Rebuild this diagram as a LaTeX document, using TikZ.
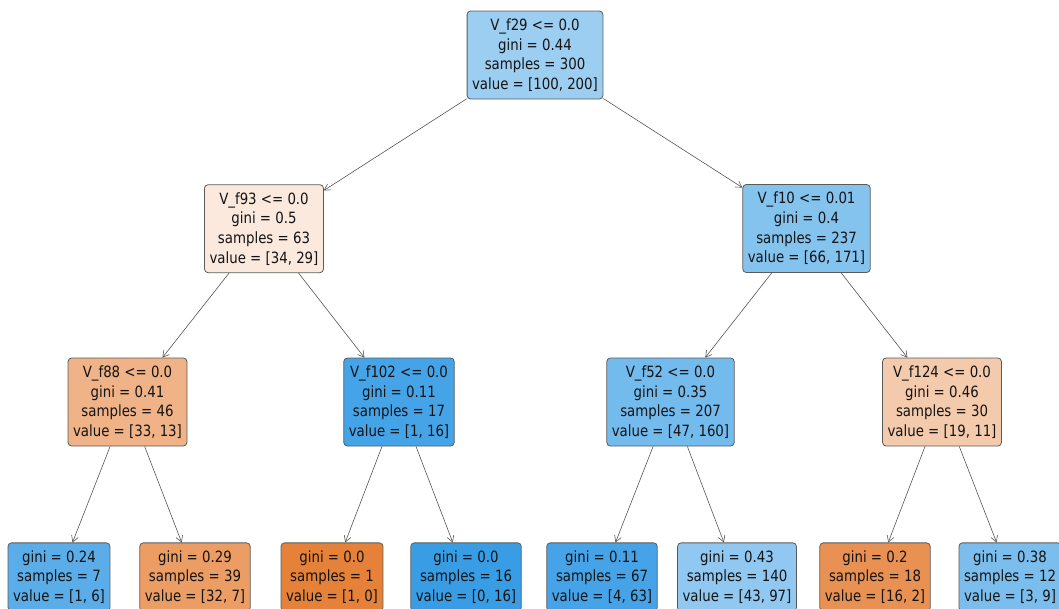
\documentclass[tikz,border=0pt]{standalone}
\usepackage{fontspec}
\setmainfont{DejaVu Sans}[FakeStretch=0.86]
\usetikzlibrary{arrows.meta}

% class colours of the tree, blended by purity
\definecolor{rootc}{RGB}{156,206,242}
\definecolor{fninetythree}{RGB}{251,233,221}
\definecolor{ften}{RGB}{133,195,239}
\definecolor{feightyeight}{RGB}{239,179,135}
\definecolor{fonehundredtwo}{RGB}{69,163,231}
\definecolor{ffiftytwo}{RGB}{115,186,237}
\definecolor{fonetwentyfour}{RGB}{244,202,172}
\definecolor{leafa}{RGB}{90,173,233}
\definecolor{leafb}{RGB}{235,157,100}
\definecolor{leafc}{RGB}{229,129,57}
\definecolor{leafd}{RGB}{57,157,229}
\definecolor{leafe}{RGB}{70,163,231}
\definecolor{leaff}{RGB}{145,200,241}
\definecolor{leafg}{RGB}{232,145,82}
\definecolor{leafh}{RGB}{123,190,238}
\definecolor{bordergray}{RGB}{90,90,90}
\definecolor{edgegray}{RGB}{85,85,85}
\definecolor{textcol}{RGB}{20,20,20}

\tikzset{
  treebox/.style={draw=bordergray, line width=0.8pt, rounded corners=3.5pt,
    align=center, inner xsep=5pt, inner ysep=0pt, text=textcol,
    font=\fontsize{15.5}{19.7}\selectfont},
  splitnode/.style={treebox, minimum height=88pt},
  leafnode/.style={treebox, minimum height=68.3pt},
  edgeline/.style={draw=edgegray, line width=0.6pt,
    -{Straight Barb[length=6pt,width=7pt]}},
}

\begin{document}
\begin{tikzpicture}[x=1pt, y=-1pt]
\useasboundingbox (0,0) rectangle (1059,608);
\clip (0,0) rectangle (1059,608);

% root
\node[splitnode, fill=rootc] (n0) at (535,55)
  {V\_f29 <= 0.0\\gini = 0.44\\samples = 300\\value = [100, 200]};

% depth 1
\node[splitnode, fill=fninetythree] (n1) at (264,228.7)
  {V\_f93 <= 0.0\\gini = 0.5\\samples = 63\\value = [34, 29]};
\node[splitnode, fill=ften] (n8) at (806.5,228.5)
  {V\_f10 <= 0.01\\gini = 0.4\\samples = 237\\value = [66, 171]};

% depth 2
\node[splitnode, fill=feightyeight] (n2) at (127.5,402)
  {V\_f88 <= 0.0\\gini = 0.41\\samples = 46\\value = [33, 13]};
\node[splitnode, fill=fonehundredtwo] (n5) at (399,402)
  {V\_f102 <= 0.0\\gini = 0.11\\samples = 17\\value = [1, 16]};
\node[splitnode, fill=ffiftytwo] (n9) at (670.5,402)
  {V\_f52 <= 0.0\\gini = 0.35\\samples = 207\\value = [47, 160]};
\node[splitnode, fill=fonetwentyfour] (n12) at (942,402)
  {V\_f124 <= 0.0\\gini = 0.46\\samples = 30\\value = [19, 11]};

% leaves
\node[leafnode, fill=leafa] (n3) at (59,577)
  {gini = 0.24\\samples = 7\\value = [1, 6]};
\node[leafnode, fill=leafb] (n4) at (195,577)
  {gini = 0.29\\samples = 39\\value = [32, 7]};
\node[leafnode, fill=leafc] (n6) at (332,577)
  {gini = 0.0\\samples = 1\\value = [1, 0]};
\node[leafnode, fill=leafd] (n7) at (466,577)
  {gini = 0.0\\samples = 16\\value = [0, 16]};
\node[leafnode, fill=leafe] (n10) at (602,577)
  {gini = 0.11\\samples = 67\\value = [4, 63]};
\node[leafnode, fill=leaff] (n11) at (737,577)
  {gini = 0.43\\samples = 140\\value = [43, 97]};
\node[leafnode, fill=leafg] (n13) at (875,577)
  {gini = 0.2\\samples = 18\\value = [16, 2]};
\node[leafnode, fill=leafh] (n14) at (1010,577)
  {gini = 0.38\\samples = 12\\value = [3, 9]};

% branches
\draw[edgeline] (n0) -- (n1);
\draw[edgeline] (n0) -- (n8);
\draw[edgeline] (n1) -- (n2);
\draw[edgeline] (n1) -- (n5);
\draw[edgeline] (n8) -- (n9);
\draw[edgeline] (n8) -- (n12);
\draw[edgeline] (n2) -- (n3);
\draw[edgeline] (n2) -- (n4);
\draw[edgeline] (n5) -- (n6);
\draw[edgeline] (n5) -- (n7);
\draw[edgeline] (n9) -- (n10);
\draw[edgeline] (n9) -- (n11);
\draw[edgeline] (n12) -- (n13);
\draw[edgeline] (n12) -- (n14);
\end{tikzpicture}
\end{document}
